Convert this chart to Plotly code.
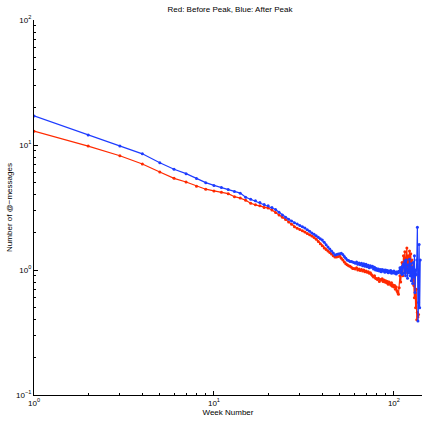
import plotly.graph_objects as go

weeks_red = list(range(1, 138))
weeks_blue = list(range(1, 141))

red_values = [
    12.9, 9.8, 8.2, 7.05, 6.08, 5.41, 5.06, 4.68, 4.43, 4.29,
    4.19, 4.08, 3.86, 3.76, 3.61, 3.42, 3.32, 3.26, 3.16, 3.13,
    3.02, 2.89, 2.76, 2.64, 2.54, 2.42, 2.32, 2.22, 2.16, 2.11,
    2.06, 2.01, 1.96, 1.91, 1.87, 1.82, 1.76, 1.69, 1.62, 1.56,
    1.50, 1.46, 1.42, 1.38, 1.34, 1.30, 1.27, 1.27, 1.28, 1.29,
    1.24, 1.20, 1.16, 1.12, 1.10, 1.08, 1.07, 1.05, 1.03, 1.03,
    1.02, 1.04, 1.00, 1.02, 0.99, 1.01, 0.98, 1.00, 0.97, 0.98,
    0.96, 0.97, 0.94, 0.95, 0.92, 0.90, 0.88, 0.90, 0.86, 0.85,
    0.84, 0.86, 0.81, 0.84, 0.83, 0.85, 0.81, 0.83, 0.80, 0.82,
    0.79, 0.81, 0.77, 0.80, 0.78, 0.76, 0.79, 0.74, 0.76, 0.73,
    0.75, 0.70, 0.73, 0.68, 0.66, 0.64, 0.72, 0.90, 0.80, 0.95,
    1.15, 0.90, 1.30, 1.10, 1.40, 1.00, 1.25, 1.50, 0.95, 1.30,
    1.05, 1.42, 1.10, 1.35, 0.95, 1.20, 0.85, 1.00, 0.75, 0.60,
    0.90, 0.50, 0.70, 0.40, 0.46, 0.42, 0.44,
]

blue_values = [
    17.1, 12.0, 9.8, 8.5, 7.2, 6.4, 5.9, 5.4, 5.0, 4.75,
    4.57, 4.41, 4.25, 4.12, 3.82, 3.68, 3.58, 3.46, 3.34, 3.26,
    3.16, 3.05, 2.90, 2.76, 2.64, 2.55, 2.47, 2.39, 2.33, 2.27,
    2.22, 2.17, 2.10, 2.04, 1.98, 1.93, 1.88, 1.83, 1.78, 1.74,
    1.67, 1.59, 1.53, 1.47, 1.42, 1.37, 1.32, 1.33, 1.34, 1.35,
    1.36, 1.33, 1.28, 1.24, 1.20, 1.19, 1.17, 1.17, 1.16, 1.15,
    1.13, 1.16, 1.11, 1.14, 1.10, 1.13, 1.08, 1.12, 1.07, 1.11,
    1.06, 1.09, 1.04, 1.08, 1.05, 1.07, 1.02, 1.05, 1.00, 1.03,
    0.99, 1.02, 0.98, 1.01, 0.97, 1.01, 0.98, 1.00, 0.96, 1.00,
    0.97, 0.99, 0.95, 0.98, 0.96, 0.99, 0.94, 0.97, 0.95, 0.98,
    0.94, 0.96, 0.93, 0.97, 0.95, 0.96, 0.98, 1.04, 0.95, 1.05,
    0.92, 1.08, 1.12, 0.94, 1.18, 0.90, 1.20, 1.00, 0.86, 1.10,
    0.95, 1.22, 0.90, 1.12, 0.82, 1.05, 0.78, 1.15, 0.88, 1.30,
    0.66, 1.00, 0.92, 1.20, 2.20, 0.39, 0.55, 1.60, 0.50, 1.20,
]

x_major = [1, 10, 100]
x_major_text = ["10<sup>0</sup>", "10<sup>1</sup>", "10<sup>2</sup>"]
y_major = [0.1, 1, 10, 100]
y_major_text = ["10<sup>\u22121</sup>", "10<sup>0</sup>", "10<sup>1</sup>", "10<sup>2</sup>"]
digits = [2, 3, 4, 5, 6, 7, 8, 9]

title_text = "Red: Before Peak, Blue: After Peak"
x_title = "Week Number"
y_title = "Number of @\u2212messages"

x_minor = [d * m for m in (1, 10, 100) for d in digits]
y_minor = [d * m for m in (0.1, 1, 10) for d in digits]

fig = go.Figure()
fig.add_trace(go.Scatter(
    x=weeks_red, y=red_values, mode="lines+markers",
    line=dict(color="#ff2a00", width=1.2),
    marker=dict(color="#ff2a00", size=3),
    showlegend=False,
))
fig.add_trace(go.Scatter(
    x=weeks_blue, y=blue_values, mode="lines+markers",
    line=dict(color="#1e3cff", width=1.2),
    marker=dict(color="#1e3cff", size=3),
    showlegend=False,
))

font = dict(family="Liberation Sans, Arial, sans-serif", size=8, color="black")

fig.update_layout(
    width=422, height=421,
    margin=dict(l=34, r=0, t=20, b=26),
    plot_bgcolor="white", paper_bgcolor="white",
    font=font,
    title=dict(text=title_text, x=0.545, xanchor="center", y=0.985, yanchor="top",
               font=dict(size=8)),
)
fig.update_xaxes(
    type="log", range=[0, 2.156],
    showline=True, linecolor="black", linewidth=1,
    showgrid=False, zeroline=False,
    ticks="inside", ticklen=4, tickcolor="black",
    tickmode="array", tickvals=x_major, ticktext=x_major_text,
    minor=dict(ticks="inside", ticklen=2, tickcolor="black", tickvals=x_minor, showgrid=False),
    title=dict(text=x_title, standoff=0, font=dict(size=8)),
    tickfont=dict(size=8),
    automargin=False,
)
fig.update_yaxes(
    type="log", range=[-1, 2],
    showline=True, linecolor="black", linewidth=1,
    showgrid=False, zeroline=False,
    ticks="inside", ticklen=4, tickcolor="black",
    tickmode="array", tickvals=y_major, ticktext=y_major_text,
    minor=dict(ticks="inside", ticklen=2, tickcolor="black", tickvals=y_minor, showgrid=False),
    title=dict(text=y_title, standoff=2, font=dict(size=8)),
    tickfont=dict(size=8),
    automargin=False,
)

fig.write_html("out.html", config={"displayModeBar": False},
               post_script="document.body.style.margin='0';")
